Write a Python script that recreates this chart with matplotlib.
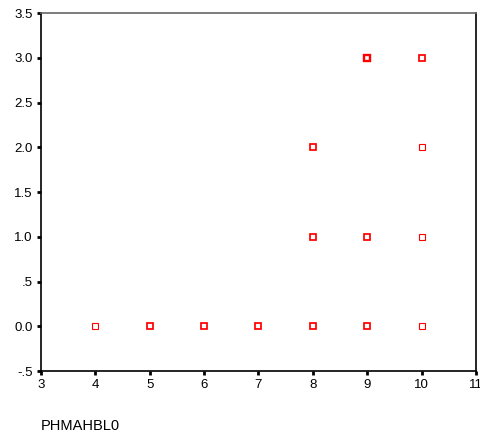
import matplotlib.pyplot as plt
import numpy as np

plt.rcParams['font.family'] = ['Liberation Sans', 'DejaVu Sans']

# observed points (x = PHMAHBL0), with rough count of overlapping cases
x_vals = [4, 5, 6, 7, 8, 8, 8, 9, 9, 9, 10, 10, 10, 10]
y_vals = [0, 0, 0, 0, 0, 1, 2, 0, 1, 3, 0, 1, 2, 3]
counts = [1, 2, 2, 2, 2, 2, 2, 2, 2, 3, 1, 1, 1, 2]

x_ticks = [3, 4, 5, 6, 7, 8, 9, 10, 11]
y_ticks = [-0.5, 0.0, 0.5, 1.0, 1.5, 2.0, 2.5, 3.0, 3.5]
y_labels = ['-.5', '0.0', '.5', '1.0', '1.5', '2.0', '2.5', '3.0', '3.5']

fig = plt.figure(figsize=(4.81, 4.37), dpi=100)
ax = fig.add_axes([0.0852, 0.151, 0.9044, 0.819])

x = np.array(x_vals)
y = np.array(y_vals)
c = np.array(counts)
for n in np.unique(c):
    m = c == n
    ax.plot(x[m], y[m], linestyle='none', marker='s', markersize=4.5,
            markerfacecolor='white', markeredgecolor='red',
            markeredgewidth=0.8 + 0.45 * (n - 1))

ax.set_xlim(3, 11)
ax.set_ylim(-0.5, 3.5)
ax.set_xticks(x_ticks)
ax.set_yticks(y_ticks)
ax.set_yticklabels(y_labels)
ax.tick_params(direction='out', length=3, width=2, labelsize=9.5, pad=3)

for side in ['left', 'bottom', 'right']:
    ax.spines[side].set_color('black')
    ax.spines[side].set_linewidth(1.2)
ax.spines['top'].set_color('#666666')
ax.spines['top'].set_linewidth(1.2)

fig.text(41 / 481, 1 - 426 / 437, 'PHMAHBL0', fontsize=10.5, va='center', ha='left')

fig.savefig('out.png', dpi=100)
